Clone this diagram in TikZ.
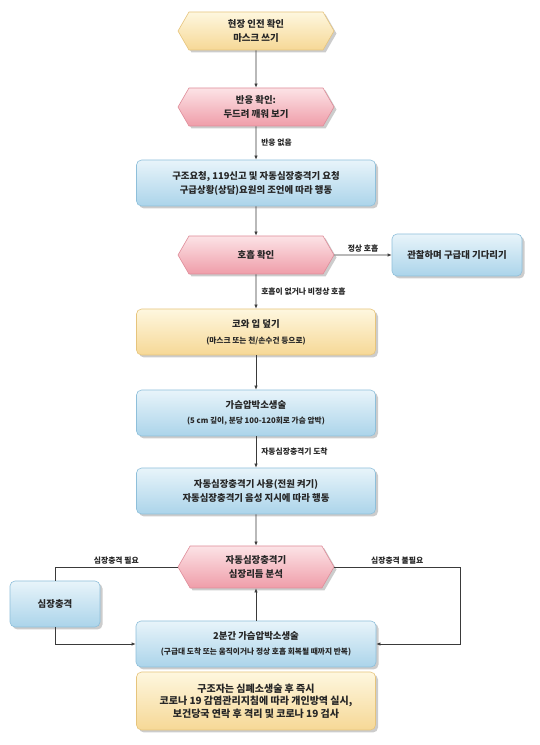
\documentclass[tikz,border=0pt]{standalone}
\usepackage{fontspec}
\setmainfont{Noto Sans CJK KR}
\usetikzlibrary{shapes.symbols,shadows,arrows.meta}
\definecolor{CPRYellowTop}{HTML}{FEF7DF}
\definecolor{CPRYellowBot}{HTML}{F6D896}
\definecolor{CPRYellowEdge}{HTML}{E6C47C}
\definecolor{CPRPinkTop}{HTML}{FCE3E6}
\definecolor{CPRPinkBot}{HTML}{EF9DA9}
\definecolor{CPRPinkEdge}{HTML}{DE8C99}
\definecolor{CPRBlueTop}{HTML}{E8F4FA}
\definecolor{CPRBlueBot}{HTML}{ABD4EA}
\definecolor{CPRBlueEdge}{HTML}{8EBFDA}
\definecolor{CPRLine}{HTML}{3A3A3A}
\newcommand{\cprmain}{\fontsize{9.4}{14}\selectfont\bfseries}
\newcommand{\cprsmall}{\fontsize{7.7}{10}\selectfont\bfseries}
\newcommand{\cprlabel}{\fontsize{7.8}{10}\selectfont\bfseries}
\newcommand{\cprnote}{\fontsize{10}{12.5}\selectfont\bfseries}

\begin{document}
\begin{tikzpicture}[x=1pt,y=1pt,
  box/.style={draw,line width=0.6pt,align=center,inner sep=2pt,font=\cprmain,text=black!85,
    drop shadow={shadow xshift=2.5pt,shadow yshift=-2.5pt,fill=black!40}},
  hexa/.style={box,signal,signal to=west and east,signal pointer angle=120,
    minimum width=156pt,minimum height=38pt},
  rbox/.style={box,rectangle,rounded corners=5pt,minimum width=239pt,minimum height=46pt},
  yellowfill/.style={draw=CPRYellowEdge,top color=CPRYellowTop,bottom color=CPRYellowBot},
  pinkfill/.style={draw=CPRPinkEdge,top color=CPRPinkTop,bottom color=CPRPinkBot},
  bluefill/.style={draw=CPRBlueEdge,top color=CPRBlueTop,bottom color=CPRBlueBot},
  link/.style={CPRLine,line width=0.6pt},
  arr/.style={link,-{Latex[length=4pt,width=3.2pt]}},
  lbl/.style={font=\cprlabel,inner sep=2pt,text=black!85}]
\path[use as bounding box] (0,0) rectangle (540,745);
% main column
\node[hexa,yellowfill] (safety) at (256,714) {현장 인전 확인\\마스크 쓰기};
\node[hexa,pinkfill] (respond) at (256,638) {반응 확인:\\두드려 깨워 보기};
\node[rbox,bluefill] (call) at (256,562) {구조요청, 119신고 및 자동심장충격기 요청\\구급상황(상담)요원의 조언에 따라 행동};
\node[hexa,pinkfill] (breath) at (256,490) {호흡 확인};
\node[rbox,bluefill,minimum width=130pt,minimum height=42pt] (wait) at (457,490) {관찰하며 구급대 기다리기};
\node[rbox,yellowfill] (cover) at (256,413) {코와 입 덮기\\[2pt]{\cprsmall (마스크 또는 천/손수건 등으로)}};
\node[rbox,bluefill] (press) at (256,332) {가슴압박소생술\\[1pt]{\cprsmall (5 cm 깊이, 분당 100-120회로 가슴 압박)}};
\node[rbox,bluefill] (aed) at (256,254) {자동심장충격기 사용(전원 켜기)\\자동심장충격기 음성 지시에 따라 행동};
\node[hexa,pinkfill,minimum height=42pt] (analyze) at (256,178) {자동심장충격기\\심장리듬 분석};
\node[rbox,bluefill,minimum width=90pt] (shock) at (55,141) {심장충격};
\node[rbox,bluefill,minimum width=240pt] (cprtwo) at (256,101) {2분간 가슴압박소생술\\[1pt]{\cprsmall (구급대 도착 또는 움직이거나 정상 호흡 회복될 때까지 반복)}};
\node[rbox,yellowfill,minimum height=58pt,font=\cprnote] (rescuer) at (256,44) {구조자는 심폐소생술 후 즉시\\코로나 19 감염관리지침에 따라 개인방역 실시,\\보건당국 연락 후 격리 및 코로나 19 검사};
\coordinate (noshock) at (460,178);
% connectors
\draw[arr] (safety) -- (respond);
\draw[arr] (respond) -- node[lbl,right,xshift=3pt] {반응 없음} (call);
\draw[arr] (call) -- (breath);
\draw[arr] (breath) -- node[lbl,above] {정상 호흡} (wait);
\draw[arr] (breath) -- node[lbl,right,xshift=3pt] {호흡이 없거나 비정상 호흡} (cover);
\draw[arr] (cover) -- (press);
\draw[arr] (press) -- node[lbl,right,xshift=3pt] {자동심장충격기 도착} (aed);
\draw[arr] (aed) -- (analyze);
\draw[link] (analyze.west) -| node[lbl,above,pos=0.25] {심장충격 필요} (shock.north);
\draw[arr] (shock.south) |- (cprtwo.west);
\draw[arr] (analyze.east) -- node[lbl,above] {심장충격 불필요} (noshock) |- (cprtwo.east);
\draw[arr] (cprtwo) -- (analyze);
\end{tikzpicture}
\end{document}
